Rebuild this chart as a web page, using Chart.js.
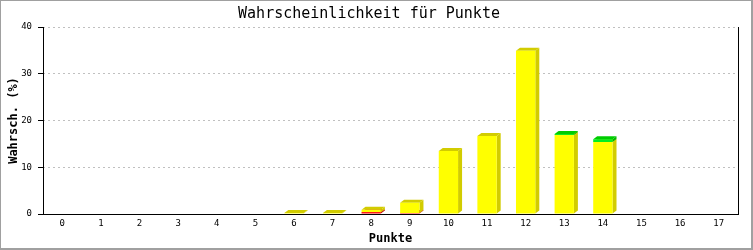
<!DOCTYPE html>
<html>
<head>
<meta charset="utf-8">
<script src="https://cdn.jsdelivr.net/npm/chart.js@4/dist/chart.umd.min.js"></script>
<style>
  html, body { margin: 0; padding: 0; background: #fff; }
  #wrap { position: relative; width: 753px; height: 250px; }
</style>
</head>
<body>
<div id="wrap"><canvas id="chart"></canvas></div>
<script>
// Werte (Wahrscheinlichkeit in %)
const punkte = ["0", "1", "2", "3", "4", "5", "6", "7", "8", "9", "10", "11", "12", "13", "14", "15", "16", "17"];
const rot = [0, 0, 0, 0, 0, 0, 0, 0, 0.4, 0.2, 0, 0, 0, 0, 0, 0, 0, 0];
const gelb = [0, 0, 0, 0, 0, 0, 0.2, 0.2, 0.5, 2.2, 13.5, 16.7, 34.9, 16.9, 15.4, 0, 0, 0];
const gruen = [0, 0, 0, 0, 0, 0, 0, 0, 0, 0, 0, 0, 0, 0.2, 0.6, 0, 0, 0];
const yTicks = [0, 10, 20, 30, 40];

const MONO = "'DejaVu Sans Mono', 'Liberation Mono', monospace";
const DX = 4, DY = 3; // Tiefe des 3D-Effekts

// Seiten- und Deckflächen vor den Frontflächen zeichnen
const bars3d = {
  id: "bars3d",
  beforeDatasetsDraw(chart) {
    const ctx = chart.ctx;
    chart.data.datasets.forEach((ds, i) => {
      const meta = chart.getDatasetMeta(i);
      meta.data.forEach((bar, j) => {
        if (!ds.data[j]) return;
        const { x, y, base, width } = bar.getProps(["x", "y", "base", "width"], true);
        const l = x - width / 2, r = x + width / 2;
        ctx.save();
        ctx.fillStyle = ds.sideColor;
        ctx.beginPath();
        ctx.moveTo(r, y); ctx.lineTo(r + DX, y - DY); ctx.lineTo(r + DX, base - DY); ctx.lineTo(r, base);
        ctx.closePath(); ctx.fill();
        ctx.fillStyle = ds.topColor;
        ctx.beginPath();
        ctx.moveTo(l, y); ctx.lineTo(l + DX, y - DY); ctx.lineTo(r + DX, y - DY); ctx.lineTo(r, y);
        ctx.closePath(); ctx.fill();
        ctx.restore();
      });
    });
  },
  afterDraw(chart) {
    const { ctx, chartArea: a } = chart;
    ctx.save();
    ctx.fillStyle = "#000";
    ctx.fillRect(Math.round(a.left), Math.round(a.top), 1, Math.round(a.bottom - a.top) + 1);
    ctx.fillRect(Math.round(a.right), Math.round(a.top), 1, Math.round(a.bottom - a.top) + 1);
    ctx.fillRect(Math.round(a.left), Math.round(a.bottom), Math.round(a.right - a.left) + 1, 1);
    // Rahmen ums Bild
    ctx.fillStyle = "#a0a0a0";
    ctx.fillRect(0, 0, 753, 1);
    ctx.fillRect(0, 0, 1, 250);
    ctx.fillRect(751, 0, 2, 250);
    ctx.fillRect(0, 248, 753, 2);
    ctx.restore();
  },
};

new Chart(document.getElementById("chart"), {
  type: "bar",
  data: {
    labels: punkte,
    datasets: [
      { label: "rot", data: rot, backgroundColor: "#ff0000", sideColor: "#c00000", topColor: "#d00000" },
      { label: "gelb", data: gelb, backgroundColor: "#ffff00", sideColor: "#d2cc00", topColor: "#d2cc00" },
      { label: "grün", data: gruen, backgroundColor: "#00ee22", sideColor: "#00b800", topColor: "#00cc00" },
    ],
  },
  options: {
    responsive: true, maintainAspectRatio: false, devicePixelRatio: 1, animation: false,
    layout: { padding: { left: 0, right: 15, top: 0, bottom: 0 } },
    datasets: { bar: { barPercentage: 0.5, categoryPercentage: 1, borderWidth: 0 } },
    plugins: {
      legend: { display: false },
      tooltip: { enabled: false },
      title: {
        display: true, text: "Wahrscheinlichkeit für Punkte", color: "#000",
        font: { family: MONO, size: 15, weight: "normal" }, padding: { top: 5, bottom: 4 },
      },
    },
    scales: {
      x: {
        stacked: true,
        grid: { display: false, drawTicks: false },
        border: { display: false },
        ticks: { color: "#000", font: { family: MONO, size: 9 }, padding: 4, maxRotation: 0 },
        title: { display: true, text: "Punkte", color: "#000", font: { family: MONO, size: 12, weight: "bold" }, padding: { top: 4 } },
        afterFit: (s) => { s.height = 36; },
      },
      y: {
        stacked: true, min: 0, max: 40,
        afterBuildTicks: (s) => { s.ticks = yTicks.map((v) => ({ value: v })); },
        grid: { color: "#c0c0c0", tickColor: "#000", tickLength: 5, lineWidth: 1 },
        border: { display: false, dash: [2, 3] },
        ticks: { color: "#000", font: { family: MONO, size: 9 }, padding: 6 },
        title: { display: true, text: "Wahrsch. (%)", color: "#000", font: { family: MONO, size: 12, weight: "bold" }, padding: { top: 7, bottom: 0 } },
        afterFit: (s) => { s.width = 43; },
      },
    },
  },
  plugins: [bars3d],
});
</script>
</body>
</html>
